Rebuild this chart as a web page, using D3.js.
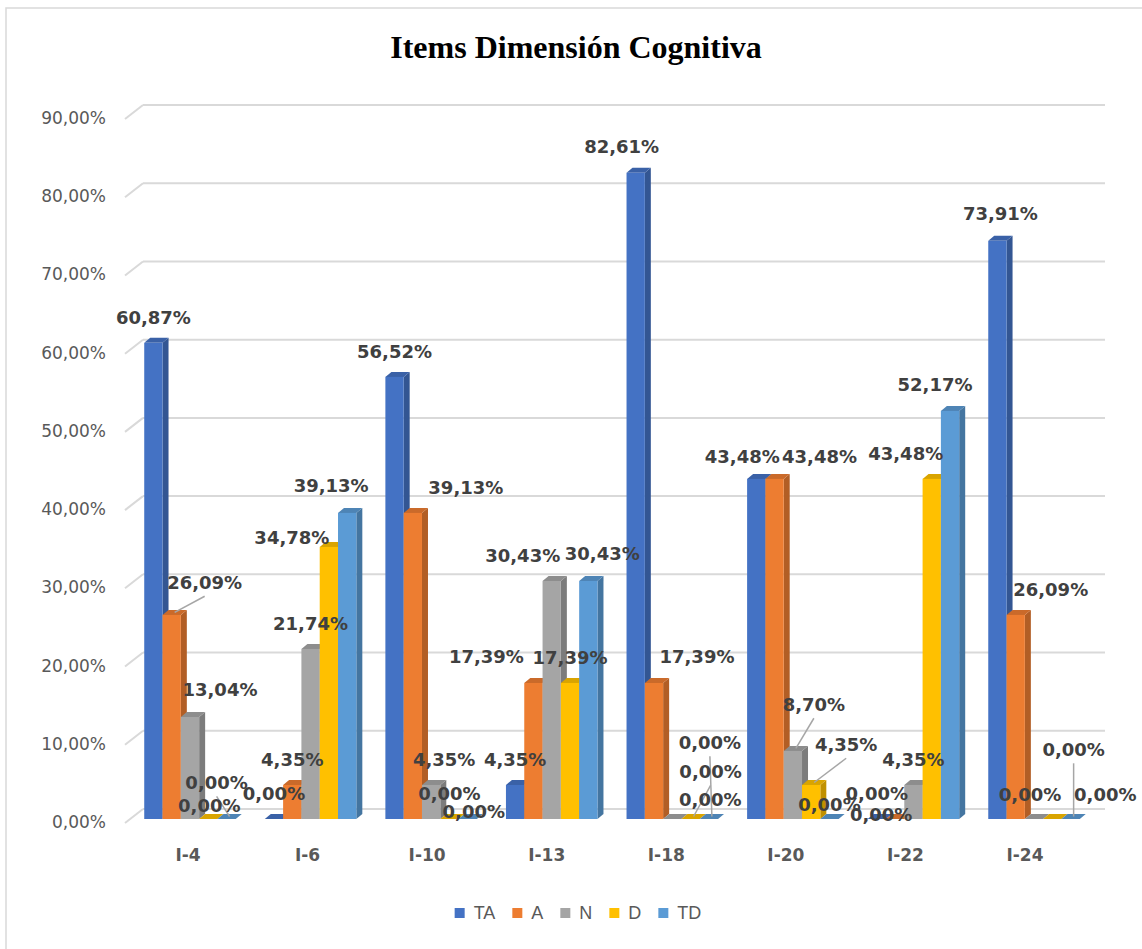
<!DOCTYPE html>
<html>
<head>
<meta charset="utf-8">
<title>Items Dimensión Cognitiva</title>
<script src="https://cdn.jsdelivr.net/npm/d3@7"></script>
<style>
  html, body { margin: 0; padding: 0; background: #ffffff; }
  svg { display: block; }
</style>
</head>
<body>
<svg id="chart" width="1142" height="949"></svg>
<script>
// ---- data ----
const categories = ["I-4", "I-6", "I-10", "I-13", "I-18", "I-20", "I-22", "I-24"];
const seriesNames = ["TA", "A", "N", "D", "TD"];
const seriesColors = ["#4472C4", "#ED7D31", "#A5A5A5", "#FFC000", "#5B9BD5"];
const valuesTA = [60.87, 0.00, 56.52, 4.35, 82.61, 43.48, 0.00, 73.91];
const valuesA  = [26.09, 4.35, 39.13, 17.39, 17.39, 43.48, 0.00, 26.09];
const valuesN  = [13.04, 21.74, 4.35, 30.43, 0.00, 8.70, 4.35, 0.00];
const valuesD  = [0.00, 34.78, 0.00, 17.39, 0.00, 4.35, 43.48, 0.00];
const valuesTD = [0.00, 39.13, 0.00, 30.43, 0.00, 0.00, 52.17, 0.00];
const yTicks = [0, 10, 20, 30, 40, 50, 60, 70, 80, 90];
const titleText = "Items Dimensión Cognitiva";

const seriesValues = [valuesTA, valuesA, valuesN, valuesD, valuesTD];

// Data-label placement relative to the top of each column (default: centred above)
const labelShift = {
  "I-4|A": [33, -32], "I-4|N": [30, -27], "I-4|D": [1, -13], "I-4|TD": [-10, -36],
  "I-6|D": [-37, -9], "I-6|TD": [-16, -27],
  "I-10|A": [53, -25], "I-10|N": [13, -25], "I-10|TD": [6, -7],
  "I-13|A": [-47, -26], "I-13|N": [-29, -25], "I-13|TD": [14, -27],
  "I-18|TA": [-14, -26], "I-18|A": [43, -26], "I-18|N": [38, -19], "I-18|D": [20, -47], "I-18|TD": [1, -76],
  "I-20|TA": [-14, -22], "I-20|A": [45, -22], "I-20|N": [21, -46], "I-20|D": [35, -40], "I-20|TD": [0, -14],
  "I-22|A": [-14, -4], "I-22|D": [-26, -25], "I-22|TD": [-15, -26],
  "I-24|TA": [3, -27], "I-24|A": [35, -25], "I-24|N": [-4, -24], "I-24|D": [53, -24], "I-24|TD": [3, -69]
};
const defaultShift = [0, -25];
const leaderLabels = new Set(["I-4|A", "I-4|TD", "I-18|D", "I-18|TD", "I-20|N", "I-20|D", "I-24|TD"]);

// ---- layout ----
const svg = d3.select("#chart");
const fmt = v => d3.format(".2f")(v).replace(".", ",") + "%";

// front plane of the columns
const y = d3.scaleLinear().domain([0, 90]).range([819, 115]);
// back wall is offset up/right from the front plane
const wallDx = 18, wallDy = -10;
const wallLeft = 125 + wallDx, wallRight = 1105;
// column depth
const depthX = 6, depthY = -5;

const x0 = d3.scaleBand().domain(categories).range([129.7, 1094.3]).paddingInner(0.241).paddingOuter(0.1205);
const x1 = d3.scaleBand().domain(seriesNames).range([0, x0.bandwidth()]);
const xLabel = d3.scalePoint().domain(categories).range([188, 1025]);

// chart border
svg.append("rect")
  .attr("x", 6).attr("y", 8).attr("width", 1160).attr("height", 980)
  .attr("fill", "#ffffff").attr("stroke", "#d9d9d9").attr("stroke-width", 1.5);

// title
svg.append("text")
  .attr("x", 576).attr("y", 58)
  .attr("text-anchor", "middle")
  .attr("font-family", "'Liberation Serif', 'Times New Roman', serif")
  .attr("font-weight", "bold")
  .attr("font-size", 32)
  .attr("fill", "#000000")
  .text(titleText);

// gridlines on the back wall + slanted ticks
const grid = svg.append("g");
yTicks.forEach(t => {
  grid.append("line")
    .attr("x1", wallLeft).attr("x2", wallRight)
    .attr("y1", y(t) + wallDy).attr("y2", y(t) + wallDy)
    .attr("stroke", "#d9d9d9").attr("stroke-width", 2);
  grid.append("line")
    .attr("x1", 125).attr("y1", y(t) + 4)
    .attr("x2", wallLeft).attr("y2", y(t) + wallDy)
    .attr("stroke", "#d9d9d9").attr("stroke-width", 2);
  grid.append("text")
    .attr("x", 106).attr("y", y(t) + 3)
    .attr("dy", "0.35em")
    .attr("text-anchor", "end")
    .attr("font-family", "'DejaVu Sans', sans-serif")
    .attr("font-size", 17)
    .attr("fill", "#595959")
    .text(fmt(t));
});

// columns
const bars = [];
categories.forEach((cat, i) => {
  seriesNames.forEach((s, j) => {
    const v = seriesValues[j][i];
    bars.push({ cat, s, j, v, x: x0(cat) + x1(s), w: x1.bandwidth(), top: y(v), base: y(0) });
  });
});

const gBars = svg.append("g");
bars.forEach(b => {
  const c = d3.color(seriesColors[b.j]);
  const g = gBars.append("g");
  // side face
  g.append("polygon")
    .attr("points", [[b.x + b.w, b.top], [b.x + b.w + depthX, b.top + depthY],
                     [b.x + b.w + depthX, b.base + depthY], [b.x + b.w, b.base]].join(" "))
    .attr("fill", c.darker(0.8));
  // top face
  g.append("polygon")
    .attr("points", [[b.x, b.top], [b.x + depthX, b.top + depthY],
                     [b.x + b.w + depthX, b.top + depthY], [b.x + b.w, b.top]].join(" "))
    .attr("fill", c.darker(0.45));
  // front face
  if (b.base - b.top > 0) {
    g.append("rect")
      .attr("x", b.x).attr("y", b.top)
      .attr("width", b.w).attr("height", b.base - b.top)
      .attr("fill", c);
  }
});

// category labels
svg.append("g").selectAll("text")
  .data(categories).join("text")
  .attr("x", d => xLabel(d)).attr("y", 855)
  .attr("dy", "0.35em")
  .attr("text-anchor", "middle")
  .attr("font-family", "'DejaVu Sans', sans-serif")
  .attr("font-weight", "bold")
  .attr("font-size", 17)
  .attr("fill", "#595959")
  .text(d => d);

// data labels and leader lines
const gLead = svg.append("g");
const gLab = svg.append("g");
bars.forEach(b => {
  const key = b.cat + "|" + b.s;
  const sh = labelShift[key] || defaultShift;
  const cx = b.x + b.w / 2 + sh[0];
  const cy = b.top + sh[1];
  const t = gLab.append("text")
    .attr("x", cx).attr("y", cy)
    .attr("dy", "0.35em")
    .attr("text-anchor", "middle")
    .attr("font-family", "'DejaVu Sans', sans-serif")
    .attr("font-weight", "bold")
    .attr("font-size", 18)
    .attr("fill", "#404040")
    .text(fmt(b.v));
  if (leaderLabels.has(key)) {
    const bb = t.node().getBBox();
    const ax = b.x + b.w / 2 + depthX / 2, ay = b.top + depthY / 2;
    const ex = bb.x + bb.width / 2;
    const ey = bb.y + bb.height + 3;
    gLead.append("line")
      .attr("x1", ax).attr("y1", ay).attr("x2", ex).attr("y2", ey)
      .attr("stroke", "#a6a6a6").attr("stroke-width", 1.5);
  }
});

// legend
const legend = svg.append("g");
let lx = 0;
seriesNames.forEach((s, j) => {
  const g = legend.append("g");
  g.append("rect").attr("x", lx).attr("y", -5).attr("width", 10).attr("height", 10)
    .attr("fill", seriesColors[j]);
  const t = g.append("text").attr("x", lx + 19).attr("y", 0).attr("dy", "0.35em")
    .attr("font-family", "'Liberation Sans', Arial, sans-serif")
    .attr("font-size", 18).attr("fill", "#595959").text(s);
  lx += 19 + t.node().getComputedTextLength() + 17;
});
const legendWidth = lx - 17;
legend.attr("transform", `translate(${578 - legendWidth / 2},913)`);
</script>
</body>
</html>
